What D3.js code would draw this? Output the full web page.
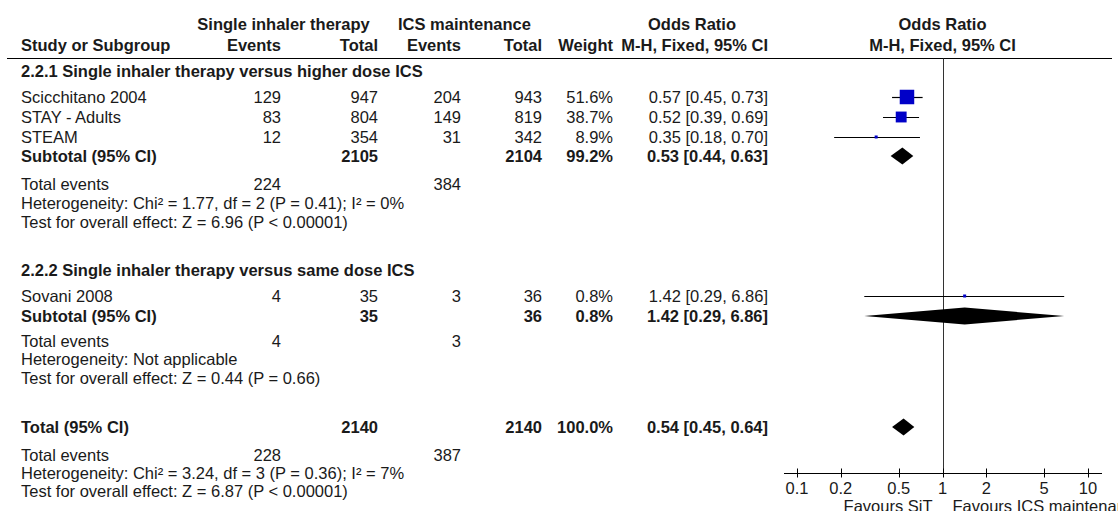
<!DOCTYPE html>
<html><head><meta charset="utf-8">
<script src="https://cdn.jsdelivr.net/npm/d3@7"></script>
<style>
html,body{margin:0;padding:0;background:#fff;}
svg{display:block;}
text{font-family:"Liberation Sans",Arial,sans-serif;font-size:16.5px;fill:#1a1a1a;}
.b{font-weight:bold;}
</style></head><body>
<svg id="c" width="1118" height="511"></svg>
<script>
// ---------- DATA ----------
const groupTitles = ["2.2.1 Single inhaler therapy versus higher dose ICS","2.2.2 Single inhaler therapy versus same dose ICS"];
const studyNames = ["Scicchitano 2004","STAY - Adults","STEAM","Sovani 2008"];
const studyGroup = [0,0,0,1];
const sitEvents = [129,83,12,4];
const sitTotal = [947,804,354,35];
const icsEvents = [204,149,31,3];
const icsTotal = [943,819,342,36];
const studyWeight = [51.6,38.7,8.9,0.8];
const studyOR = [0.57,0.52,0.35,1.42];
const studyLow = [0.45,0.39,0.18,0.29];
const studyHigh = [0.73,0.69,0.70,6.86];

const subSitTotal = [2105,35];
const subIcsTotal = [2104,36];
const subWeight = [99.2,0.8];
const subOR = [0.53,1.42];
const subLow = [0.44,0.29];
const subHigh = [0.63,6.86];
const subSitEvents = [224,4];
const subIcsEvents = [384,3];
const subHet = ["Heterogeneity: Chi\u00b2 = 1.77, df = 2 (P = 0.41); I\u00b2 = 0%","Heterogeneity: Not applicable"];
const subTest = ["Test for overall effect: Z = 6.96 (P < 0.00001)","Test for overall effect: Z = 0.44 (P = 0.66)"];

const totalSit = 2140, totalIcs = 2140, totalWeight = 100.0;
const totalOR = 0.54, totalLow = 0.45, totalHigh = 0.64;
const totalSitEvents = 228, totalIcsEvents = 387;
const totalHet = "Heterogeneity: Chi\u00b2 = 3.24, df = 3 (P = 0.36); I\u00b2 = 7%";
const totalTest = "Test for overall effect: Z = 6.87 (P < 0.00001)";

const axisTicks = [0.1,0.2,0.5,1,2,5,10];
const favoursLeft = "Favours SiT";
const favoursRight = "Favours ICS maintenance";

// ---------- LAYOUT ----------
const svg = d3.select("#c");
const rowKeys = ["h1","h2","g0","s0","s1","s2","sub0","te0","het0","test0","g1","s3","sub1","te1","het1","test1","tot","te2","het2","test2"];
const rowY = d3.scaleOrdinal(rowKeys,[24,45,71,97,117,137,156,184,203,222,270,296,316,341,359,378,427,455,473,491]);
const colKeys = ["sitE","sitT","icsE","icsT","w","or"];
const colX = d3.scaleOrdinal(colKeys,[281,378,461,542,613,768]);
const labelX = 21;
const xs = d3.scaleLog().domain([0.1,10]).range([797,1088]);
const axisY = 473, headLineY = 58.5;
const sq = d3.scaleLinear().domain([0,d3.max(studyWeight)]).range([0,14.5]);

const fmt2 = d3.format(".2f");
const pct = w => d3.format(".1f")(w)+"%";
const orTxt = (o,l,h) => `${fmt2(o)} [${fmt2(l)}, ${fmt2(h)}]`;

function txt(x,y,s,anchor,bold){
  svg.append("text").attr("x",x).attr("y",y).attr("dy","0.36em")
    .attr("text-anchor",anchor||"start").attr("class",bold?"b":null).text(s);
}

// headers
txt((colX("sitE")+colX("sitT"))/2-46,rowY("h1"),"Single inhaler therapy","middle",true);
txt((colX("icsE")+colX("icsT"))/2-37,rowY("h1"),"ICS maintenance","middle",true);
txt(692,rowY("h1"),"Odds Ratio","middle",true);
txt(xs(1),rowY("h1"),"Odds Ratio","middle",true);
txt(labelX,rowY("h2"),"Study or Subgroup","start",true);
txt(colX("sitE"),rowY("h2"),"Events","end",true);
txt(colX("sitT"),rowY("h2"),"Total","end",true);
txt(colX("icsE"),rowY("h2"),"Events","end",true);
txt(colX("icsT"),rowY("h2"),"Total","end",true);
txt(colX("w"),rowY("h2"),"Weight","end",true);
txt(colX("or"),rowY("h2"),"M-H, Fixed, 95% CI","end",true);
txt(xs(1),rowY("h2"),"M-H, Fixed, 95% CI","middle",true);

svg.append("line").attr("x1",7).attr("x2",1112).attr("y1",headLineY).attr("y2",headLineY)
  .attr("stroke","#000").attr("stroke-width",1);

// vertical line of no effect
svg.append("line").attr("x1",Math.round(xs(1))+0.5).attr("x2",Math.round(xs(1))+0.5)
  .attr("y1",headLineY).attr("y2",axisY).attr("stroke","#333").attr("stroke-width",1);

function diamond(y,o,l,h){
  const hh=8.5;
  svg.append("path").attr("d",`M${xs(l)},${y}L${xs(o)},${y-hh}L${xs(h)},${y}L${xs(o)},${y+hh}Z`).attr("fill","#000");
}

// groups
groupTitles.forEach((g,gi)=>{
  txt(labelX,rowY("g"+gi),g,"start",true);
  studyNames.forEach((n,i)=>{
    if(studyGroup[i]!==gi) return;
    const y=rowY("s"+i);
    txt(labelX,y,n);
    txt(colX("sitE"),y,sitEvents[i],"end");
    txt(colX("sitT"),y,sitTotal[i],"end");
    txt(colX("icsE"),y,icsEvents[i],"end");
    txt(colX("icsT"),y,icsTotal[i],"end");
    txt(colX("w"),y,pct(studyWeight[i]),"end");
    txt(colX("or"),y,orTxt(studyOR[i],studyLow[i],studyHigh[i]),"end");
    const yy=Math.round(y)+0.5;
    svg.append("line").attr("x1",xs(studyLow[i])).attr("x2",xs(studyHigh[i])).attr("y1",yy).attr("y2",yy)
      .attr("stroke","#000").attr("stroke-width",1.2);
    const s=Math.max(3,sq(studyWeight[i]));
    const h=Math.max(2.5,s);
    svg.append("rect").attr("x",xs(studyOR[i])-s/2).attr("y",y-h/2).attr("width",s).attr("height",h).attr("fill","#0000c8");
  });
  const ys=rowY("sub"+gi);
  txt(labelX,ys,"Subtotal (95% CI)","start",true);
  txt(colX("sitT"),ys,subSitTotal[gi],"end",true);
  txt(colX("icsT"),ys,subIcsTotal[gi],"end",true);
  txt(colX("w"),ys,pct(subWeight[gi]),"end",true);
  txt(colX("or"),ys,orTxt(subOR[gi],subLow[gi],subHigh[gi]),"end",true);
  diamond(ys,subOR[gi],subLow[gi],subHigh[gi]);
  txt(labelX,rowY("te"+gi),"Total events");
  txt(colX("sitE"),rowY("te"+gi),subSitEvents[gi],"end");
  txt(colX("icsE"),rowY("te"+gi),subIcsEvents[gi],"end");
  txt(labelX,rowY("het"+gi),subHet[gi]);
  txt(labelX,rowY("test"+gi),subTest[gi]);
});

// total
const yt=rowY("tot");
txt(labelX,yt,"Total (95% CI)","start",true);
txt(colX("sitT"),yt,totalSit,"end",true);
txt(colX("icsT"),yt,totalIcs,"end",true);
txt(colX("w"),yt,pct(totalWeight),"end",true);
txt(colX("or"),yt,orTxt(totalOR,totalLow,totalHigh),"end",true);
diamond(yt,totalOR,totalLow,totalHigh);
txt(labelX,rowY("te2"),"Total events");
txt(colX("sitE"),rowY("te2"),totalSitEvents,"end");
txt(colX("icsE"),rowY("te2"),totalIcsEvents,"end");
txt(labelX,rowY("het2"),totalHet);
txt(labelX,rowY("test2"),totalTest);

// axis
const ay=axisY+0.5;
svg.append("line").attr("x1",xs(0.1)-13).attr("x2",xs(10)+14).attr("y1",ay).attr("y2",ay).attr("stroke","#000");
const tg=svg.append("g");
tg.selectAll("line").data(axisTicks).join("line")
  .attr("x1",d=>Math.round(xs(d))+0.5).attr("x2",d=>Math.round(xs(d))+0.5)
  .attr("y1",ay-5).attr("y2",ay+4).attr("stroke","#000");
tg.selectAll("text").data(axisTicks).join("text")
  .attr("x",d=>xs(d)).attr("y",ay+15).attr("dy","0.36em").attr("text-anchor","middle").text(d=>d);
txt(xs(1)-10,ay+33,favoursLeft,"end");
txt(xs(1)+10,ay+33,favoursRight,"start");
</script>
</body></html>
